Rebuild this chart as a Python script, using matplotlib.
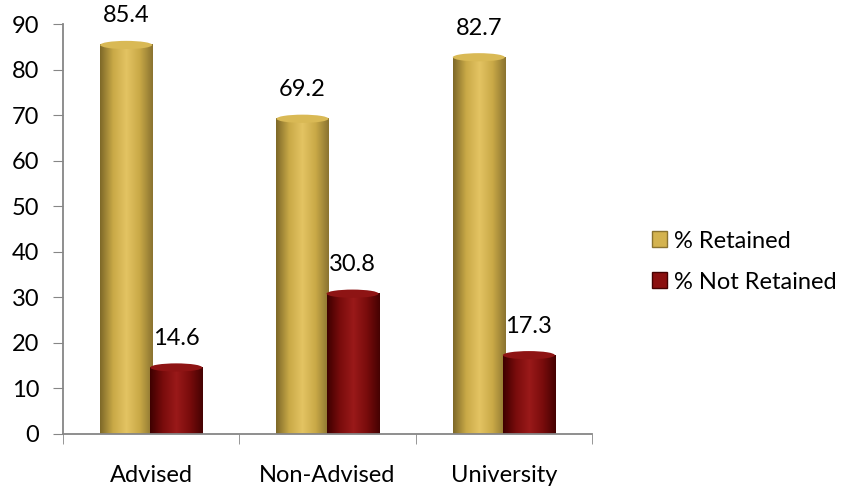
import numpy as np
from matplotlib import pyplot as plt
from matplotlib.patches import Ellipse, Patch
from matplotlib.colors import LinearSegmentedColormap

plt.rcParams['font.family'] = ['Lato', 'DejaVu Sans']

categories = ['Advised', 'Non-Advised', 'University']
retained = [85.4, 69.2, 82.7]
not_retained = [14.6, 30.8, 17.3]
series_names = ['% Retained', '% Not Retained']

gold = LinearSegmentedColormap.from_list('gold', ['#7d6828', '#c9a947', '#e3c463', '#c9a947', '#8a7330'])
red = LinearSegmentedColormap.from_list('red', ['#3e0000', '#7a0c0c', '#9a1a1a', '#7a0c0c', '#450202'])

fig = plt.figure(figsize=(8.53, 4.88), dpi=100)
ax = fig.add_axes([0.0739, 0.1107, 0.6201, 0.8401])

width = 0.295
grad = np.linspace(0, 1, 256).reshape(1, -1)


def cylinder(x, h, cmap, cap):
    x0, x1 = x - width / 2, x + width / 2
    ax.imshow(grad, cmap=cmap, extent=[x0, x1, 0, h], aspect='auto', zorder=2)
    ax.add_patch(Ellipse((x, h), width, 1.8, facecolor=cap, edgecolor='none', zorder=3))


for i in range(len(categories)):
    xg = i - 0.142
    xr = i + 0.142
    cylinder(xg, retained[i], gold, '#d9b955')
    cylinder(xr, not_retained[i], red, '#8e1414')
    ax.annotate(f'{retained[i]}', (xg, retained[i]), xytext=(0, 21), textcoords='offset points',
                ha='center', va='center', fontsize=17)
    ax.annotate(f'{not_retained[i]}', (xr, not_retained[i]), xytext=(0, 21), textcoords='offset points',
                ha='center', va='center', fontsize=17)

ax.set_xlim(-0.5, 2.5)
ax.set_ylim(0, 90)
ax.set_yticks(range(0, 91, 10))
ax.set_xticks(range(3))
ax.set_xticklabels(categories)
ax.set_xticks([-0.5, 0.5, 1.5, 2.5], minor=True)
ax.tick_params(axis='x', which='major', length=0, pad=22, labelsize=17)
ax.tick_params(axis='x', which='minor', length=7, color='#868686', direction='out')
ax.tick_params(axis='y', length=7, color='#868686', pad=10, labelsize=17)
for s in ['top', 'right']:
    ax.spines[s].set_visible(False)
for s in ['left', 'bottom']:
    ax.spines[s].set_color('#868686')
    ax.spines[s].set_linewidth(1.3)

handles = [Patch(facecolor='#d4b34f', edgecolor='#8a7330'),
           Patch(facecolor='#8b1010', edgecolor='#450202')]
fig.legend(handles, series_names, loc='center left', bbox_to_anchor=(0.7644, 0.464),
           frameon=False, fontsize=17, handlelength=0.64, handleheight=0.64,
           handletextpad=0.3, labelspacing=0.85, borderpad=0, borderaxespad=0)

fig.savefig('out.png', dpi=100)
